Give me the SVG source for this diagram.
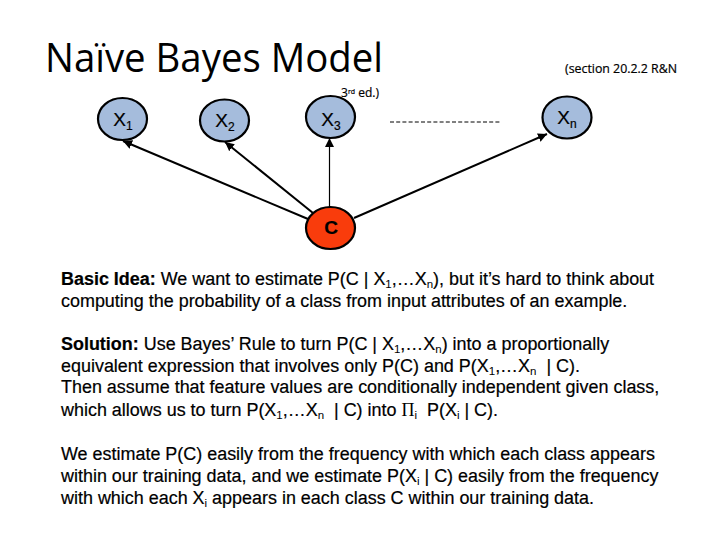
<svg xmlns="http://www.w3.org/2000/svg" width="720" height="540" viewBox="0 0 720 540">
<style>
text{font-family:"Liberation Sans",Arial,sans-serif;fill:#000}
.title{font-family:"Open Sans","Noto Sans",sans-serif;font-size:40px}
.note{font-family:"Open Sans","Noto Sans",sans-serif;font-size:12px;stroke:#000;stroke-width:.2}
.body{font-size:17.950px;stroke:#000;stroke-width:.2}
.body .b{font-weight:bold}
.light{stroke-width:0}
.sub{font-size:11.500px;stroke-width:0}
.node{stroke:#000;stroke-width:2.2}
.x{fill:#a5bcdc}
.c{fill:#f93c0c}
.label{font-size:19px;text-anchor:middle;stroke:#000;stroke-width:.2}
.labsub{font-size:12px}
.edge{stroke:#000;stroke-width:2;fill:none;marker-end:url(#arrow)}
</style>
<defs>
<marker id="arrow" markerUnits="userSpaceOnUse" markerWidth="10" markerHeight="10" refX="9" refY="4.5" orient="auto">
<path d="M0 0L9 4.5L0 9Z" fill="#000"/>
</marker>
</defs>
<rect width="720" height="540" fill="#fff"/>
<text class="title" x="45" y="72" textLength="338" lengthAdjust="spacingAndGlyphs">Naïve Bayes Model</text>
<text class="note" x="565" y="73" textLength="112" lengthAdjust="spacingAndGlyphs">(section 20.2.2 R&amp;N</text>
<text class="note" x="341" y="97">3<tspan font-size="7" dy="-3">rd</tspan><tspan dy="3"> ed.)</tspan></text>
<g id="connectors">
<line class="edge" x1="308" y1="219" x2="123" y2="141"/>
<line class="edge" x1="313" y1="213" x2="225" y2="142"/>
<line class="edge" x1="329.500" y1="207" x2="329.500" y2="138" style="stroke-width:1.200"/>
<line class="edge" x1="354" y1="218" x2="547" y2="134"/>
<line x1="390" y1="122" x2="500" y2="122" stroke="#000" stroke-width="1" stroke-dasharray="4 2.200"/>
</g>
<g id="node-x1"><ellipse class="node x" cx="122.500" cy="119" rx="24.500" ry="21"/><text class="label" x="123" y="126">X<tspan class="labsub" dy="4">1</tspan></text></g>
<g id="node-x2"><ellipse class="node x" cx="224.500" cy="120.500" rx="24.500" ry="21"/><text class="label" x="225" y="127">X<tspan class="labsub" dy="4">2</tspan></text></g>
<g id="node-x3"><ellipse class="node x" cx="330.500" cy="117" rx="24.500" ry="21"/><text class="label" x="331" y="126">X<tspan class="labsub" dy="4">3</tspan></text></g>
<g id="node-xn"><ellipse class="node x" cx="567" cy="117.500" rx="24.500" ry="21"/><text class="label" x="567" y="124">X<tspan class="labsub" dy="4">n</tspan></text></g>
<g id="node-c"><ellipse class="node c" cx="330.500" cy="228" rx="24.500" ry="21"/><text class="label" x="331" y="234" font-weight="bold">C</text></g>
<g id="text" class="body">
<text class="body" x="61" y="285"><tspan class="b">Basic Idea:</tspan> We want to estimate P(C | X<tspan class="sub" dy="3">1</tspan><tspan dy="-3">,…X</tspan><tspan class="sub" dy="3">n</tspan><tspan dy="-3">), but it’s hard to think about</tspan></text>
<text class="body" x="61" y="307">computing the probability of a class from input attributes of an example.</text>
<text class="body" x="61" y="350"><tspan class="b">Solution:</tspan> Use Bayes’ Rule to turn P(C | X<tspan class="sub" dy="3">1</tspan><tspan dy="-3">,…X</tspan><tspan class="sub" dy="3">n</tspan><tspan dy="-3">) into a proportionally</tspan></text>
<text class="body" x="61" y="372">equivalent expression that involves only P(C) and P(X<tspan class="sub" dy="3">1</tspan><tspan dy="-3">,…X</tspan><tspan class="sub" dy="3">n</tspan><tspan dy="-3" xml:space="preserve">  | C).</tspan></text>
<text class="body" x="61" y="393">Then assume that feature values are conditionally independent given class,</text>
<text class="body" x="61" y="416">which allows us to turn P(X<tspan class="sub" dy="3">1</tspan><tspan dy="-3">,…X</tspan><tspan class="sub" dy="3">n</tspan><tspan dy="-3" xml:space="preserve">  | C) into </tspan><tspan class="light" font-family="Liberation Serif">Π</tspan><tspan class="sub" dy="3">i</tspan><tspan dy="-3" xml:space="preserve">  P(X</tspan><tspan class="sub" dy="3">i</tspan><tspan dy="-3"> | C).</tspan></text>
<text class="body" x="61" y="460">We estimate P(C) easily from the frequency with which each class appears</text>
<text class="body" x="61" y="482">within our training data, and we estimate P(X<tspan class="sub" dy="3">i</tspan><tspan dy="-3"> | C) easily from the frequency</tspan></text>
<text class="body" x="61" y="504">with which each X<tspan class="sub" dy="3">i</tspan><tspan dy="-3"> appears in each class C within our training data.</tspan></text>
</g>
</svg>
